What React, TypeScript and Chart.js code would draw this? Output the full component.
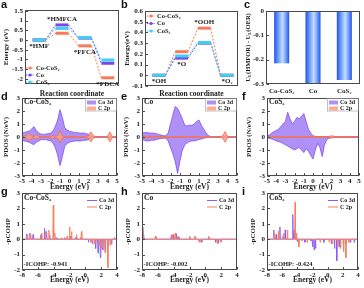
import React, { useEffect, useRef } from 'react';
import { Chart, registerables } from 'chart.js';
Chart.register(...registerables);

// ---------------- DATA ----------------
// (a) HMFOR free-energy diagram
const hmforSteps = ['*HMF', '*HMFCA', '*FFCA', '*FDCA'];
const hmforCoCoS2 = [0, 0.35, -0.3, -1.95];
const hmforCo = [0, 0.78, 0.1, -1.2];
const hmforCoS2 = [0, 0.6, 0.13, -1.03];
const hmforTicks = [1.5, 1, 0.5, 0, -0.5, -1, -1.5, -2];

// (b) OER free-energy diagram
const oerSteps = ['*OH', '*O', '*OOH', '*O₂'];
const oerCoCoS2 = [0, 0.22, 0.44, 0];
const oerCo = [0, 0.16, 0.3, 0];
const oerCoS2 = [0, 0.18, 0.305, 0];
const oerTicks = [0.6, 0.5, 0.4, 0.3, 0.2, 0.1, 0, -0.1];

// (c) U_L difference
const ulCategories = ['Co-CoS₂', 'Co', 'CoS₂'];
const ulValues = [-0.215, -0.297, -0.284];
const ulTicks = [0, -0.1, -0.2, -0.3];

// (d-f) PDOS
const pdosEnergy = [-5, -4.75, -4.5, -4.25, -4, -3.75, -3.5, -3.25, -3, -2.75,
  -2.5, -2.25, -2, -1.75, -1.5, -1.25, -1, -0.75, -0.5, -0.25,
  0, 0.25, 0.5, 0.75, 1, 1.25, 1.5, 1.75, 2, 2.25,
  2.5, 2.75, 3, 3.25, 3.5, 3.75, 4, 4.25, 4.5, 4.75, 5];
const pdosTicksX = [-5, -4, -3, -2, -1, 0, 1, 2, 3, 4, 5];
const pdosTicksY = [3, 2, 1, 0, -1, -2, -3];

const dCo3dUp = [0.3, 0.35, 0.4, 0.45, 0.6, 0.8, 0.5, 0.3, 0.22, 0.2,
  0.22, 0.25, 0.3, 0.45, 0.8, 1.3, 2.1, 1.5, 0.7, 0.55,
  0.45, 0.4, 0.35, 0.35, 0.3, 0.3, 0.3, 0.25, 0.22, 0.08,
  0.04, 0.03, 0.03, 0.02, 0.02, 0.02, 0.02, 0.02, 0.02, 0.02, 0.02];
const dCo3dDown = [-0.25, -0.3, -0.35, -0.4, -0.5, -0.6, -0.4, -0.3, -0.2, -0.2,
  -0.2, -0.25, -0.3, -0.45, -0.8, -1.4, -2.2, -1.5, -0.7, -0.5,
  -0.4, -0.35, -0.3, -0.3, -0.3, -0.3, -0.25, -0.25, -0.2, -0.08,
  -0.04, -0.03, -0.03, -0.02, -0.02, -0.02, -0.02, -0.02, -0.02, -0.02, -0.02];
const dC2pUp = [0.03, 0.05, 0.1, 0.3, 0.08, 0.05, 0.2, 0.05, 0.03, 0.03,
  0.03, 0.03, 0.05, 0.12, 0.05, 0.1, 0.5, 0.08, 0.03, 0.03,
  0.03, 0.03, 0.03, 0.03, 0.03, 0.03, 0.03, 0.05, 0.1, 0.4,
  0.1, 0.03, 0.02, 0.02, 0.02, 0.02, 0.05, 0.4, 0.05, 0.02, 0.02];
const dC2pDown = [-0.03, -0.05, -0.1, -0.28, -0.08, -0.05, -0.18, -0.05, -0.03, -0.03,
  -0.03, -0.03, -0.05, -0.1, -0.05, -0.1, -0.45, -0.08, -0.03, -0.03,
  -0.03, -0.03, -0.03, -0.03, -0.03, -0.03, -0.03, -0.05, -0.1, -0.38,
  -0.1, -0.03, -0.02, -0.02, -0.02, -0.02, -0.05, -0.38, -0.05, -0.02, -0.02];

const eCo3dUp = [0.3, 0.35, 0.35, 0.3, 0.3, 0.3, 0.25, 0.2, 0.15, 0.1,
  0.1, 0.3, 1.0, 1.7, 2.35, 2.2, 1.8, 1.4, 0.9, 0.85,
  0.9, 0.9, 1.0, 1.2, 1.3, 0.9, 0.6, 0.3, 0.1, 0.03,
  0.02, 0.02, 0.02, 0.02, 0.02, 0.02, 0.02, 0.02, 0.02, 0.02, 0.02];
const eCo3dDown = [-0.2, -0.25, -0.3, -0.3, -0.25, -0.25, -0.2, -0.15, -0.1, -0.1,
  -0.1, -0.3, -0.8, -1.3, -1.9, -2.8, -1.8, -1.0, -0.6, -0.45,
  -0.35, -0.3, -0.3, -0.25, -0.2, -0.15, -0.1, -0.06, -0.03, -0.02,
  -0.02, -0.02, -0.02, -0.02, -0.02, -0.02, -0.02, -0.02, -0.02, -0.02, -0.02];
const eC2pUp = [0.03, 0.05, 0.05, 0.05, 0.04, 0.05, 0.04, 0.03, 0.03, 0.03,
  0.03, 0.03, 0.03, 0.03, 0.03, 0.03, 0.03, 0.03, 0.03, 0.03,
  0.03, 0.03, 0.03, 0.03, 0.03, 0.03, 0.03, 0.03, 0.03, 0.03,
  0.02, 0.02, 0.02, 0.03, 0.1, 0.42, 0.05, 0.02, 0.02, 0.02, 0.02];
const eC2pDown = [-0.03, -0.04, -0.05, -0.05, -0.04, -0.04, -0.04, -0.03, -0.03, -0.03,
  -0.03, -0.03, -0.03, -0.03, -0.03, -0.03, -0.03, -0.03, -0.03, -0.03,
  -0.03, -0.03, -0.03, -0.03, -0.03, -0.03, -0.03, -0.03, -0.03, -0.03,
  -0.02, -0.02, -0.02, -0.03, -0.1, -0.4, -0.05, -0.02, -0.02, -0.02, -0.02];

const fCo3dUp = [0.1, 0.15, 0.3, 0.4, 0.5, 0.6, 0.8, 1.0, 1.2, 1.9,
  1.4, 1.0, 1.2, 1.5, 1.4, 1.6, 1.8, 1.2, 0.6, 0.3,
  0.1, 0.05, 0.03, 0.03, 0.03, 0.03, 0.03, 0.03, 0.03, 0.03,
  0.03, 0.03, 0.03, 0.03, 0.03, 0.03, 0.03, 0.03, 0.03, 0.03, 0.03];
const fCo3dDown = [-0.05, -0.1, -0.15, -0.2, -0.3, -0.35, -0.4, -0.5, -0.6, -0.7,
  -0.8, -0.9, -1.0, -0.9, -0.8, -1.0, -1.2, -0.9, -1.1, -1.4,
  -1.7, -1.0, -0.5, -0.8, -1.5, -0.6, -0.2, -0.1, -0.05, -0.03,
  -0.03, -0.03, -0.03, -0.03, -0.03, -0.03, -0.03, -0.03, -0.03, -0.03, -0.03];
const fC2pUp = [0.03, 0.03, 0.03, 0.03, 0.03, 0.03, 0.03, 0.03, 0.03, 0.03,
  0.03, 0.03, 0.03, 0.03, 0.03, 0.03, 0.03, 0.03, 0.03, 0.03,
  0.03, 0.03, 0.03, 0.03, 0.03, 0.03, 0.03, 0.04, 0.1, 0.06,
  0.03, 0.03, 0.03, 0.03, 0.03, 0.03, 0.03, 0.03, 0.03, 0.03, 0.03];
const fC2pDown = [-0.03, -0.03, -0.03, -0.03, -0.03, -0.03, -0.03, -0.03, -0.03, -0.03,
  -0.03, -0.03, -0.03, -0.03, -0.03, -0.03, -0.03, -0.03, -0.03, -0.03,
  -0.03, -0.03, -0.03, -0.03, -0.03, -0.03, -0.03, -0.04, -0.08, -0.04,
  -0.03, -0.03, -0.03, -0.03, -0.03, -0.03, -0.03, -0.03, -0.03, -0.03, -0.03];

// (g-i) pCOHP spikes: energies and values
const cohpTicksX = [-8, -6, -4, -2, 0, 2, 4];
const cohpTicksY = [3, 2, 1, 0, -1, -2];

const gCo3dE = [-7.4, -7.0, -6.6, -5.6, -5.15, -4.9, -4.5, -3.6, -2.6, -1.9, -1.2, -0.6, 0.4, 0.9, 1.3, 1.6, 1.9, 2.2, 2.5, 2.9, 3.3, 3.7];
const gCo3dV = [0.35, 0.4, 0.3, 0.3, 0.7, 0.5, 0.3, 0.1, 0.1, 0.2, 0.15, 0.1, -0.2, -0.3, -0.6, -0.9, -1.2, -0.7, -0.8, -0.4, -0.3, 0.1];
const gC2pE = [-7.3, -6.9, -5.5, -5.0, -4.6, -4.05, -3.85, -3.0, -2.3, -2.0, -1.75, -1.1, -0.5, 0.7, 1.2, 1.75, 2.1, 2.5, 2.85, 3.15];
const gC2pV = [0.3, 0.3, 0.4, 0.5, 0.6, 2.2, 0.4, 0.1, 0.2, 0.8, 0.5, 0.3, 0.5, -0.2, -0.3, -0.4, -0.6, -0.9, -1.85, -0.4];

const hCo3dE = [-7.95, -7.8, -6.3, -4.3, -4.0, -3.7, -3.4, -2.0, -1.3, -0.8, -0.5, 0.4, 1.3, 1.6, 2.0];
const hCo3dV = [0.8, 0.3, 0.15, 0.25, 0.3, 0.35, 0.15, 0.15, 0.15, -0.15, -0.2, 0.15, -0.2, -0.25, -0.15];
const hC2pE = [-7.9, -6.3, -4.2, -3.8, -3.5, -2.0, -1.3, -0.7, -0.4, 0.4, 1.5, 1.9];
const hC2pV = [0.65, 0.2, 0.3, 0.4, 0.2, 0.2, 0.2, -0.2, -0.15, 0.2, -0.3, -0.2];

const iCo3dE = [-7.1, -6.8, -6.3, -5.9, -5.6, -4.6, -4.4, -4.0, -3.0, -2.2, -2.0, -1.8, -1.6, -0.5, 0.5, 0.9, 1.2, 1.5, 2.4, 3.0, 3.5];
const iCo3dV = [0.6, 0.3, 0.8, 0.2, 0.6, 1.6, 0.6, -0.15, -0.2, -0.1, -0.5, -0.7, -0.6, -0.2, -0.3, -0.6, -1.4, -0.5, -0.3, -0.2, -0.2];
const iC2pE = [-7.0, -6.5, -5.8, -5.3, -4.3, -4.1, -3.8, -3.4, -2.7, -1.8, -1.0, 0.2, 0.6, 1.3, 1.7, 2.1, 2.4, 2.8];
const iC2pV = [0.4, 0.5, 0.4, 0.6, 2.4, 0.4, -0.5, -0.1, -0.2, -0.1, -0.2, -0.2, -0.3, -0.5, -0.6, -0.8, -1.2, -0.2];

// ---------------- STYLE ----------------
const SERIF = "'Liberation Serif', 'Times New Roman', serif";
const INK = '#1c1c1c';
const ORANGE = '#f67a5c';
const PURPLE = '#7a45ef';
const CYAN = '#3ecff2';
const CO3D_LINE = '#7f4ff0';
const CO3D_FILL = 'rgba(160,125,246,0.85)';
const C2P_LINE = '#f26a4c';
const C2P_FILL = 'rgba(250,160,128,0.85)';
const COHP_CO = '#8a5cf6';
const COHP_C = '#f8805c';

type Box = { x: number; y: number; w: number; h: number };
type Area = { l: number; t: number; r: number; b: number };

const LEVEL_C0 = 1.2, LEVEL_DX = 1.95, LEVEL_HW = 0.55;
const BAR_FRAC = 0.48;

// ---------------- HELPERS ----------------
function text(ctx: CanvasRenderingContext2D, s: string, x: number, y: number, size: number, o: any = {}) {
  ctx.font = `${o.weight ?? 'bold'} ${size}px ${o.family ?? SERIF}`;
  ctx.fillStyle = o.color ?? INK;
  ctx.textAlign = o.align ?? 'left';
  ctx.textBaseline = o.baseline ?? 'middle';
  ctx.fillText(s, x, y);
}
function vtext(ctx: CanvasRenderingContext2D, s: string, x: number, y: number, size: number) {
  ctx.save();
  ctx.translate(x, y);
  ctx.rotate(-Math.PI / 2);
  text(ctx, s, 0, 0, size, { align: 'center' });
  ctx.restore();
}
function vrich(ctx: CanvasRenderingContext2D, parts: { t: string; sub?: boolean }[], x: number, y: number, size: number) {
  ctx.save();
  ctx.translate(x, y);
  ctx.rotate(-Math.PI / 2);
  const sub = size * 0.7;
  let total = 0;
  parts.forEach((p) => { ctx.font = `bold ${p.sub ? sub : size}px ${SERIF}`; total += ctx.measureText(p.t).width; });
  let cx = -total / 2;
  parts.forEach((p) => {
    ctx.font = `bold ${p.sub ? sub : size}px ${SERIF}`;
    ctx.fillStyle = INK; ctx.textAlign = 'left'; ctx.textBaseline = 'middle';
    ctx.fillText(p.t, cx, p.sub ? size * 0.3 : 0);
    cx += ctx.measureText(p.t).width;
  });
  ctx.restore();
}
function drawFrame(chart: any, ctx: CanvasRenderingContext2D, xTicks: boolean, yTicks: boolean) {
  const a = chart.chartArea;
  ctx.save();
  ctx.strokeStyle = '#4a4a4a';
  ctx.lineWidth = 1;
  const L = Math.round(a.left) + 0.5, T = Math.round(a.top) + 0.5, R = Math.round(a.right) - 0.5, B = Math.round(a.bottom) - 0.5;
  ctx.strokeRect(L, T, R - L, B - T);
  if (yTicks) {
    const s = chart.scales.y;
    s.ticks.forEach((t: any) => {
      const py = Math.round(s.getPixelForValue(t.value)) + 0.5;
      ctx.beginPath(); ctx.moveTo(L, py); ctx.lineTo(L + 2.5, py); ctx.stroke();
    });
  }
  if (xTicks) {
    const s = chart.scales.x;
    s.ticks.forEach((t: any) => {
      const px = Math.round(s.getPixelForValue(t.value)) + 0.5;
      ctx.beginPath(); ctx.moveTo(px, B); ctx.lineTo(px, B - 2.5); ctx.stroke();
    });
  }
  ctx.restore();
}
const fixW = (w: number) => (s: any) => { s.width = w; s.paddingLeft = 0; s.paddingRight = 0; s.paddingTop = 0; s.paddingBottom = 0; };
const fixH = (h: number) => (s: any) => { s.height = h; s.paddingLeft = 0; s.paddingRight = 0; s.paddingTop = 0; s.paddingBottom = 0; };
const tickFont = { family: SERIF, size: 7, weight: 'bold' as const };

function linScale(kind: 'x' | 'y', size: number, min: number, max: number, ticks: number[] | null, showLabels = true, pad = 2) {
  return {
    type: 'linear', min, max,
    afterFit: kind === 'y' ? fixW(size) : fixH(size),
    afterBuildTicks: (s: any) => { if (ticks) s.ticks = ticks.map((v) => ({ value: v })); },
    grid: { display: false, drawTicks: false },
    border: { display: false },
    ticks: {
      display: showLabels, padding: pad, color: INK, font: tickFont, autoSkip: false, minRotation: 0, maxRotation: 0,
      callback: (v: any) => String(v),
    },
  };
}
function baseOpts(p: Box, a: Area) {
  return {
    responsive: false, maintainAspectRatio: false, animation: false, events: [],
    layout: { padding: { left: 0, top: a.t - p.y, right: p.x + p.w - a.r, bottom: 0 } },
    plugins: { legend: { display: false }, tooltip: { enabled: false } },
  };
}
function decor(draw: (chart: any, ctx: CanvasRenderingContext2D, a: any) => void) {
  return { id: 'decor', afterDraw(chart: any) { const ctx = chart.ctx; ctx.save(); draw(chart, ctx, chart.chartArea); ctx.restore(); } };
}

// ---------------- PANEL BUILDERS ----------------
type Series = { label: string; vals: number[]; color: string };
function buildLevels(p: Box, a: Area, steps: string[], series: Series[], yMin: number, yMax: number, yTicks: number[],
  sides: string[], leg: { dx: number; dy: number; gap: number }, yTitle: string, yTitleDx: number, xTitleDy: number) {
  const datasets = series.map((s, k) => {
    const pts: { x: number; y: number }[] = [];
    s.vals.forEach((v, i) => { const c = LEVEL_C0 + i * LEVEL_DX; pts.push({ x: c - LEVEL_HW, y: v }, { x: c + LEVEL_HW, y: v }); });
    return {
      label: s.label, data: pts, borderColor: s.color, backgroundColor: s.color, pointRadius: 0, borderWidth: 1,
      order: series.length - 1 - k,
      segment: {
        borderWidth: (c: any) => (c.p0DataIndex % 2 === 0 ? 3 : 1),
        borderDash: (c: any) => (c.p0DataIndex % 2 === 0 ? [] : [2, 1.5]),
      },
    };
  });
  return {
    type: 'line',
    data: { datasets },
    options: {
      ...baseOpts(p, a),
      scales: {
        x: linScale('x', p.y + p.h - a.b, 0, 8, null, false),
        y: linScale('y', a.l - p.x, yMin, yMax, yTicks),
      },
    },
    plugins: [decor((chart, ctx, ca) => {
      drawFrame(chart, ctx, false, true);
      const xs = chart.scales.x, ys = chart.scales.y;
      steps.forEach((st, i) => {
        const vals = series.map((s) => s.vals[i]);
        const px = xs.getPixelForValue(LEVEL_C0 + i * LEVEL_DX);
        if (sides[i] === 'below') text(ctx, st, px, ys.getPixelForValue(Math.min(...vals)) + 2.5, 7, { align: 'center', baseline: 'top' });
        else text(ctx, st, px, ys.getPixelForValue(Math.max(...vals)) - 2, 7, { align: 'center', baseline: 'bottom' });
      });
      series.forEach((s, k) => {
        const y = ca.top + leg.dy + k * leg.gap;
        const x0 = ca.left + leg.dx;
        ctx.strokeStyle = s.color; ctx.lineWidth = 1; ctx.setLineDash([1.5, 1]);
        ctx.beginPath(); ctx.moveTo(x0, y); ctx.lineTo(x0 + 8, y); ctx.stroke(); ctx.setLineDash([]);
        ctx.fillStyle = s.color; ctx.beginPath(); ctx.arc(x0 + 4, y, 1.6, 0, Math.PI * 2); ctx.fill();
        text(ctx, s.label, x0 + 10, y, 6.5);
      });
      vtext(ctx, yTitle, ca.left - yTitleDx, (ca.top + ca.bottom) / 2, 7);
      text(ctx, 'Reaction coordinate', (ca.left + ca.right) / 2, ca.bottom + xTitleDy, 7.5, { align: 'center' });
    })],
  };
}

function buildBars(p: Box, a: Area) {
  return {
    type: 'bar',
    data: {
      labels: ulCategories,
      datasets: [{
        data: ulValues, borderWidth: 0, categoryPercentage: 1, barPercentage: BAR_FRAC,
        backgroundColor: (c: any) => {
          const chart = c.chart; const xs = chart.scales?.x; const ca = chart.chartArea;
          if (!xs || !ca || c.dataIndex === undefined) return '#4a7ff5';
          const cx = xs.getPixelForValue(c.dataIndex);
          const bw = ((ca.right - ca.left) / ulValues.length) * BAR_FRAC;
          const g = chart.ctx.createLinearGradient(cx - bw / 2, 0, cx + bw / 2, 0);
          g.addColorStop(0, '#1d50ee'); g.addColorStop(0.22, '#5b8ff7'); g.addColorStop(0.55, '#c6ddff');
          g.addColorStop(0.8, '#6b9bf8'); g.addColorStop(1, '#1d50ee');
          return g;
        },
      }],
    },
    options: {
      ...baseOpts(p, a),
      scales: {
        x: {
          type: 'category', afterFit: fixH(p.y + p.h - a.b), grid: { display: false, drawTicks: false }, border: { display: false },
          ticks: { padding: 3, color: INK, font: tickFont, autoSkip: false, maxRotation: 0, minRotation: 0 },
        },
        y: linScale('y', a.l - p.x, -0.3, 0, ulTicks),
      },
    },
    plugins: [decor((chart, ctx, ca) => {
      drawFrame(chart, ctx, false, true);
      vrich(ctx, [{ t: 'U' }, { t: 'L', sub: true }, { t: '(HMFOR) - U' }, { t: 'L', sub: true }, { t: '(OER)' }], ca.left - 18, (ca.top + ca.bottom) / 2, 6.5);
    })],
  };
}

function buildPdos(p: Box, a: Area, name: string, up: number[], down: number[], cUp: number[], cDown: number[], yTitleDx: number) {
  const ds = (vals: number[], line: string, fill: string, order: number) => ({
    data: pdosEnergy.map((e, i) => ({ x: e, y: vals[i] })), borderColor: line, backgroundColor: fill,
    fill: 'origin', borderWidth: 0.8, pointRadius: 0, tension: 0, order,
  });
  return {
    type: 'line',
    data: { datasets: [ds(cUp, C2P_LINE, C2P_FILL, 0), ds(cDown, C2P_LINE, C2P_FILL, 1), ds(up, CO3D_LINE, CO3D_FILL, 2), ds(down, CO3D_LINE, CO3D_FILL, 3)] },
    options: {
      ...baseOpts(p, a),
      scales: {
        x: linScale('x', p.y + p.h - a.b, -5, 5, pdosTicksX, true, 1),
        y: linScale('y', a.l - p.x, -3, 3, pdosTicksY),
      },
    },
    plugins: [decor((chart, ctx, ca) => {
      drawFrame(chart, ctx, true, true);
      text(ctx, name, ca.left + 2, ca.top + 4.5, 7.5);
      const lx = ca.right - 32;
      ctx.strokeStyle = '#999'; ctx.lineWidth = 0.6;
      ctx.strokeRect(lx + 0.5, ca.top + 0.5, 31, 12.5);
      ctx.fillStyle = CO3D_FILL; ctx.fillRect(lx + 2, ca.top + 2.5, 9, 4);
      ctx.fillStyle = C2P_FILL; ctx.fillRect(lx + 2, ca.top + 8.5, 9, 4);
      text(ctx, 'Co 3d', lx + 13, ca.top + 4.5, 6);
      text(ctx, 'C 2p', lx + 13, ca.top + 10.5, 6);
      vtext(ctx, 'PDOS (N/eV)', ca.left - yTitleDx, (ca.top + ca.bottom) / 2, 7);
      text(ctx, 'Energy (eV)', (ca.left + ca.right) / 2, ca.bottom + 11.5, 7.5, { align: 'center' });
    })],
  };
}

function spikes(E: number[], V: number[]) {
  const pts = [{ x: -8.3, y: 0 }];
  E.forEach((e, i) => { pts.push({ x: e - 0.06, y: 0 }, { x: e, y: V[i] }, { x: e + 0.06, y: 0 }); });
  pts.push({ x: 4.3, y: 0 });
  return pts;
}
function buildCohp(p: Box, a: Area, name: string, coE: number[], coV: number[], cE: number[], cV: number[], icohp: string, yTitleDx: number) {
  const ds = (E: number[], V: number[], color: string, order: number) => ({
    data: spikes(E, V), borderColor: color, borderWidth: 0.9, pointRadius: 0, tension: 0, fill: false, order,
  });
  return {
    type: 'line',
    data: { datasets: [ds(cE, cV, COHP_C, 0), ds(coE, coV, COHP_CO, 1)] },
    options: {
      ...baseOpts(p, a),
      scales: {
        x: linScale('x', p.y + p.h - a.b, -8, 4, cohpTicksX, true, 1),
        y: linScale('y', a.l - p.x, -2, 3, cohpTicksY),
      },
    },
    plugins: [decor((chart, ctx, ca) => {
      drawFrame(chart, ctx, true, true);
      text(ctx, name, ca.left + 2, ca.top + 5, 7.5);
      const lx = ca.right - 30;
      ctx.lineWidth = 1;
      ctx.strokeStyle = COHP_CO; ctx.beginPath(); ctx.moveTo(lx, ca.top + 7.5); ctx.lineTo(lx + 10, ca.top + 7.5); ctx.stroke();
      ctx.strokeStyle = COHP_C; ctx.beginPath(); ctx.moveTo(lx, ca.top + 14); ctx.lineTo(lx + 10, ca.top + 14); ctx.stroke();
      text(ctx, 'Co 3d', lx + 12, ca.top + 7.5, 6);
      text(ctx, 'C 2p', lx + 12, ca.top + 14, 6);
      text(ctx, icohp, ca.left + 1.5, ca.bottom - 6, 6.5);
      vtext(ctx, '-pCOHP', ca.left - yTitleDx, (ca.top + ca.bottom) / 2, 7);
      text(ctx, 'Energy (eV)', (ca.left + ca.right) / 2, ca.bottom + 10.5, 7.5, { align: 'center' });
    })],
  };
}

// ---------------- PANELS ----------------
const PANELS: { key: string; box: Box; build: () => any }[] = [
  {
    key: 'a', box: { x: 0, y: 0, w: 120, h: 97 },
    build() {
      const a = { l: 25, t: 10, r: 119, b: 84 };
      return buildLevels(this.box, a, hmforSteps, [
        { label: 'Co-CoS₂', vals: hmforCoCoS2, color: ORANGE },
        { label: 'Co', vals: hmforCo, color: PURPLE },
        { label: 'CoS₂', vals: hmforCoS2, color: CYAN },
      ], -2.27, 1.55, hmforTicks, ['below', 'above', 'below', 'below'], { dx: 1, dy: 58, gap: 7 }, 'Energy (eV)', 19, 10);
    },
  },
  {
    key: 'b', box: { x: 120, y: 0, w: 120, h: 97 },
    build() {
      const a = { l: 145, t: 11, r: 238, b: 86 };
      return buildLevels(this.box, a, oerSteps, [
        { label: 'Co-CoS₂', vals: oerCoCoS2, color: ORANGE },
        { label: 'Co', vals: oerCo, color: PURPLE },
        { label: 'CoS₂', vals: oerCoS2, color: CYAN },
      ], -0.1, 0.6, oerTicks, ['below', 'below', 'above', 'below'], { dx: 2, dy: 5, gap: 7.5 }, 'Energy(eV)', 18, 8);
    },
  },
  { key: 'c', box: { x: 240, y: 0, w: 124, h: 97 }, build() { return buildBars(this.box, { l: 266, t: 11, r: 360, b: 84 }); } },
  { key: 'd', box: { x: 0, y: 90, w: 120, h: 102 }, build() { return buildPdos(this.box, { l: 22, t: 98, r: 117, b: 176 }, 'Co-CoS₂', dCo3dUp, dCo3dDown, dC2pUp, dC2pDown, 16); } },
  { key: 'e', box: { x: 120, y: 90, w: 120, h: 102 }, build() { return buildPdos(this.box, { l: 142, t: 98, r: 237, b: 176 }, 'Co', eCo3dUp, eCo3dDown, eC2pUp, eC2pDown, 16); } },
  { key: 'f', box: { x: 240, y: 90, w: 124, h: 102 }, build() { return buildPdos(this.box, { l: 267, t: 98, r: 359, b: 176 }, 'CoS₂', fCo3dUp, fCo3dDown, fC2pUp, fC2pDown, 18); } },
  { key: 'g', box: { x: 0, y: 186, w: 120, h: 102 }, build() { return buildCohp(this.box, { l: 22, t: 193, r: 117, b: 270 }, 'Co-CoS₂', gCo3dE, gCo3dV, gC2pE, gC2pV, '-ICOHP: -0.941', 14); } },
  { key: 'h', box: { x: 120, y: 186, w: 120, h: 102 }, build() { return buildCohp(this.box, { l: 142, t: 193, r: 237, b: 270 }, 'Co', hCo3dE, hCo3dV, hC2pE, hC2pV, '-ICOHP: -0.002', 14); } },
  { key: 'i', box: { x: 240, y: 186, w: 124, h: 102 }, build() { return buildCohp(this.box, { l: 267, t: 193, r: 358, b: 270 }, 'CoS₂', iCo3dE, iCo3dV, iC2pE, iC2pV, '-ICOHP: -0.424', 14); } },
];

const LETTERS = [
  { t: 'a', x: 1, base: 8.5 }, { t: 'b', x: 121, base: 8 }, { t: 'c', x: 244, base: 8 },
  { t: 'd', x: 1, base: 100 }, { t: 'e', x: 121, base: 100 }, { t: 'f', x: 242, base: 100 },
  { t: 'g', x: 1, base: 195 }, { t: 'h', x: 121, base: 195 }, { t: 'i', x: 242, base: 195 },
];

function ChartCanvas({ box, build }: { box: Box; build: () => any }) {
  const ref = useRef<HTMLCanvasElement | null>(null);
  useEffect(() => {
    const chart = new Chart(ref.current as HTMLCanvasElement, build() as any);
    return () => chart.destroy();
  }, []);
  return (
    <canvas ref={ref} width={box.w} height={box.h}
      style={{ position: 'absolute', left: box.x, top: box.y, width: box.w, height: box.h }} />
  );
}

export default function App() {
  return (
    <div style={{ position: 'fixed', left: 0, top: 0, width: 364, height: 288, background: '#fff', overflow: 'hidden' }}>
      {PANELS.map((p) => (
        <ChartCanvas key={p.key} box={p.box} build={() => p.build.call(p)} />
      ))}
      {LETTERS.map((l) => (
        <span key={l.t} style={{
          position: 'absolute', left: l.x, top: l.base - 9.3, font: "bold 11px 'Liberation Sans', Arial, sans-serif",
          lineHeight: '11px', color: '#111', pointerEvents: 'none',
        }}>{l.t}</span>
      ))}
    </div>
  );
}
